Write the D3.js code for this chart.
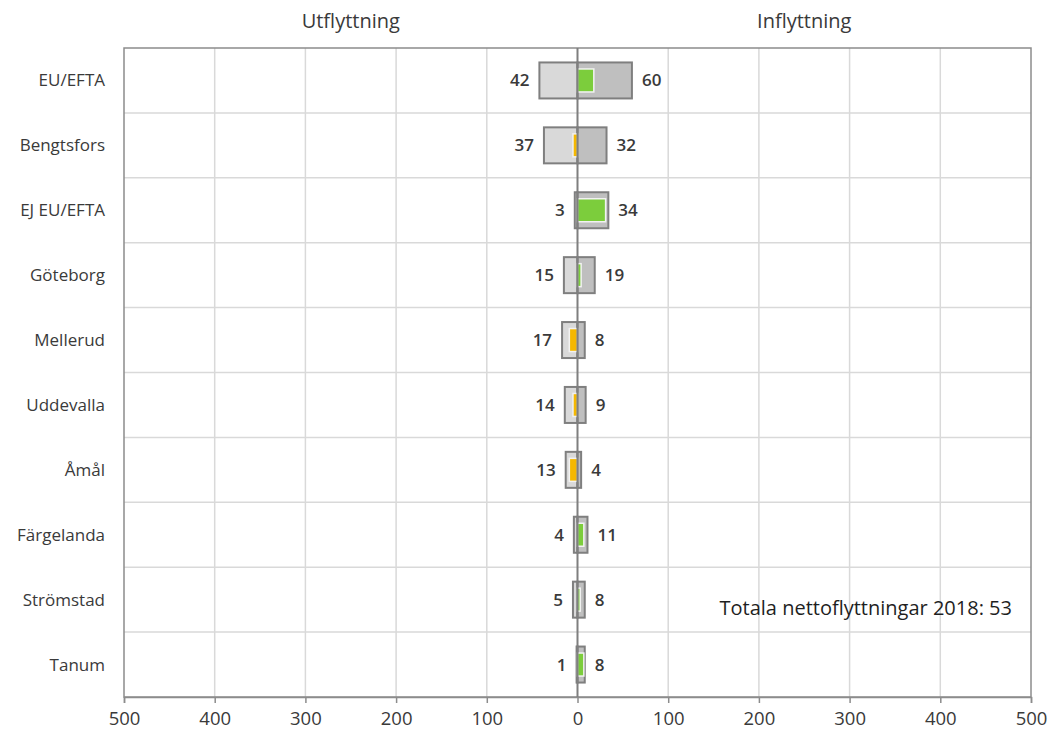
<!DOCTYPE html>
<html><head><meta charset="utf-8">
<script src="https://cdn.jsdelivr.net/npm/d3@7"></script>
<style>
body{margin:0;background:#fff;}
text{font-family:"Open Sans","Lato",sans-serif;}
</style></head>
<body><svg id="c" width="1048" height="733"></svg>
<script>
const categories = ["EU/EFTA","Bengtsfors","EJ EU/EFTA","Göteborg","Mellerud","Uddevalla","Åmål","Färgelanda","Strömstad","Tanum"];
const outflow = [42,37,3,15,17,14,13,4,5,1];
const inflow  = [60,32,34,19,8,9,4,11,8,8];
const net     = [18,-5,31,4,-9,-5,-9,7,3,7];
const xTicks  = [-500,-400,-300,-200,-100,0,100,200,300,400,500];
const totalText = "Totala nettoflyttningar 2018: 53";

const svg = d3.select("#c");
const L=124,R=1031,T=48,B=697;
const x = d3.scaleLinear().domain([-500,500]).range([L,R]);
const y = d3.scaleBand().domain(categories).range([T,B]);
const textCol="#3a3a3a";

// grid
svg.append("g").selectAll("line").data(xTicks.filter(d=>d!==0&&Math.abs(d)!==500)).join("line")
  .attr("x1",d=>x(d)).attr("x2",d=>x(d)).attr("y1",T).attr("y2",B)
  .attr("stroke","#d9d9d9").attr("stroke-width",1.5);
svg.append("g").selectAll("line").data(categories.slice(1)).join("line")
  .attr("x1",L).attr("x2",R).attr("y1",d=>y(d)).attr("y2",d=>y(d))
  .attr("stroke","#d9d9d9").attr("stroke-width",1.5);

// border
svg.append("rect").attr("x",L).attr("y",T).attr("width",R-L).attr("height",B-T)
  .attr("fill","none").attr("stroke","#8c8c8c").attr("stroke-width",1.5);

// x axis
const ax = svg.append("g").attr("transform",`translate(0,${B})`)
  .call(d3.axisBottom(x).tickValues(xTicks).tickFormat(d=>Math.abs(d)).tickSize(6).tickPadding(9));
ax.select(".domain").attr("stroke","#8c8c8c").attr("stroke-width",1.5);
ax.selectAll(".tick line").attr("stroke","#8c8c8c").attr("stroke-width",1.5);
ax.selectAll("text").attr("font-size",18.5).attr("fill",textCol).attr("font-family","Open Sans, sans-serif");

const bh = 36, nh = 23;
const rows = categories.map((c,i)=>({c,o:outflow[i],inn:inflow[i],n:net[i]}));
const g = svg.append("g");
// outflow bars
g.selectAll(".o").data(rows).join("rect")
  .attr("x",d=>x(-d.o)).attr("width",d=>x(0)-x(-d.o))
  .attr("y",d=>y(d.c)+y.bandwidth()/2-bh/2).attr("height",bh)
  .attr("fill","#d9d9d9").attr("stroke","#7f7f7f").attr("stroke-width",2);
// inflow bars
g.selectAll(".i").data(rows).join("rect")
  .attr("x",x(0)).attr("width",d=>x(d.inn)-x(0))
  .attr("y",d=>y(d.c)+y.bandwidth()/2-bh/2).attr("height",bh)
  .attr("fill","#bfbfbf").attr("stroke","#7f7f7f").attr("stroke-width",2);
// net bars
g.selectAll(".n").data(rows).join("rect")
  .attr("x",d=>x(Math.min(0,d.n))).attr("width",d=>Math.abs(x(d.n)-x(0)))
  .attr("y",d=>y(d.c)+y.bandwidth()/2-nh/2).attr("height",nh)
  .attr("fill",d=>d.n>=0?"#7ccd3c":"#f5b800").attr("stroke","#f2f2f2").attr("stroke-width",1.5);

// center line
svg.append("line").attr("x1",x(0)).attr("x2",x(0)).attr("y1",T).attr("y2",B)
  .attr("stroke","#7f7f7f").attr("stroke-width",2);

// value labels
g.selectAll(".lo").data(rows).join("text")
  .attr("x",d=>x(-d.o)-10).attr("y",d=>y(d.c)+y.bandwidth()/2).attr("dy","0.35em")
  .attr("text-anchor","end").attr("font-size",17).attr("font-weight",600).attr("fill",textCol)
  .text(d=>d.o);
g.selectAll(".li").data(rows).join("text")
  .attr("x",d=>x(d.inn)+10).attr("y",d=>y(d.c)+y.bandwidth()/2).attr("dy","0.35em")
  .attr("text-anchor","start").attr("font-size",17).attr("font-weight",600).attr("fill",textCol)
  .text(d=>d.inn);

// category labels
svg.append("g").selectAll("text").data(categories).join("text")
  .attr("x",105).attr("y",d=>y(d)+y.bandwidth()/2).attr("dy","0.35em")
  .attr("text-anchor","end").attr("font-size",17).attr("font-weight",500).attr("fill",textCol).text(d=>d);

// titles
svg.append("text").attr("x",(L+x(0))/2).attr("y",21).attr("dy","0.35em").attr("text-anchor","middle")
  .attr("font-size",20).attr("font-weight",500).attr("fill",textCol).text("Utflyttning");
svg.append("text").attr("x",(R+x(0))/2).attr("y",21).attr("dy","0.35em").attr("text-anchor","middle")
  .attr("font-size",20).attr("font-weight",500).attr("fill",textCol).text("Inflyttning");

svg.append("text").attr("x",1012).attr("y",y("Strömstad")+y.bandwidth()/2+8).attr("dy","0.35em").attr("text-anchor","end")
  .attr("font-size",20).attr("fill","#1f1f1f").text(totalText);
</script></body></html>
